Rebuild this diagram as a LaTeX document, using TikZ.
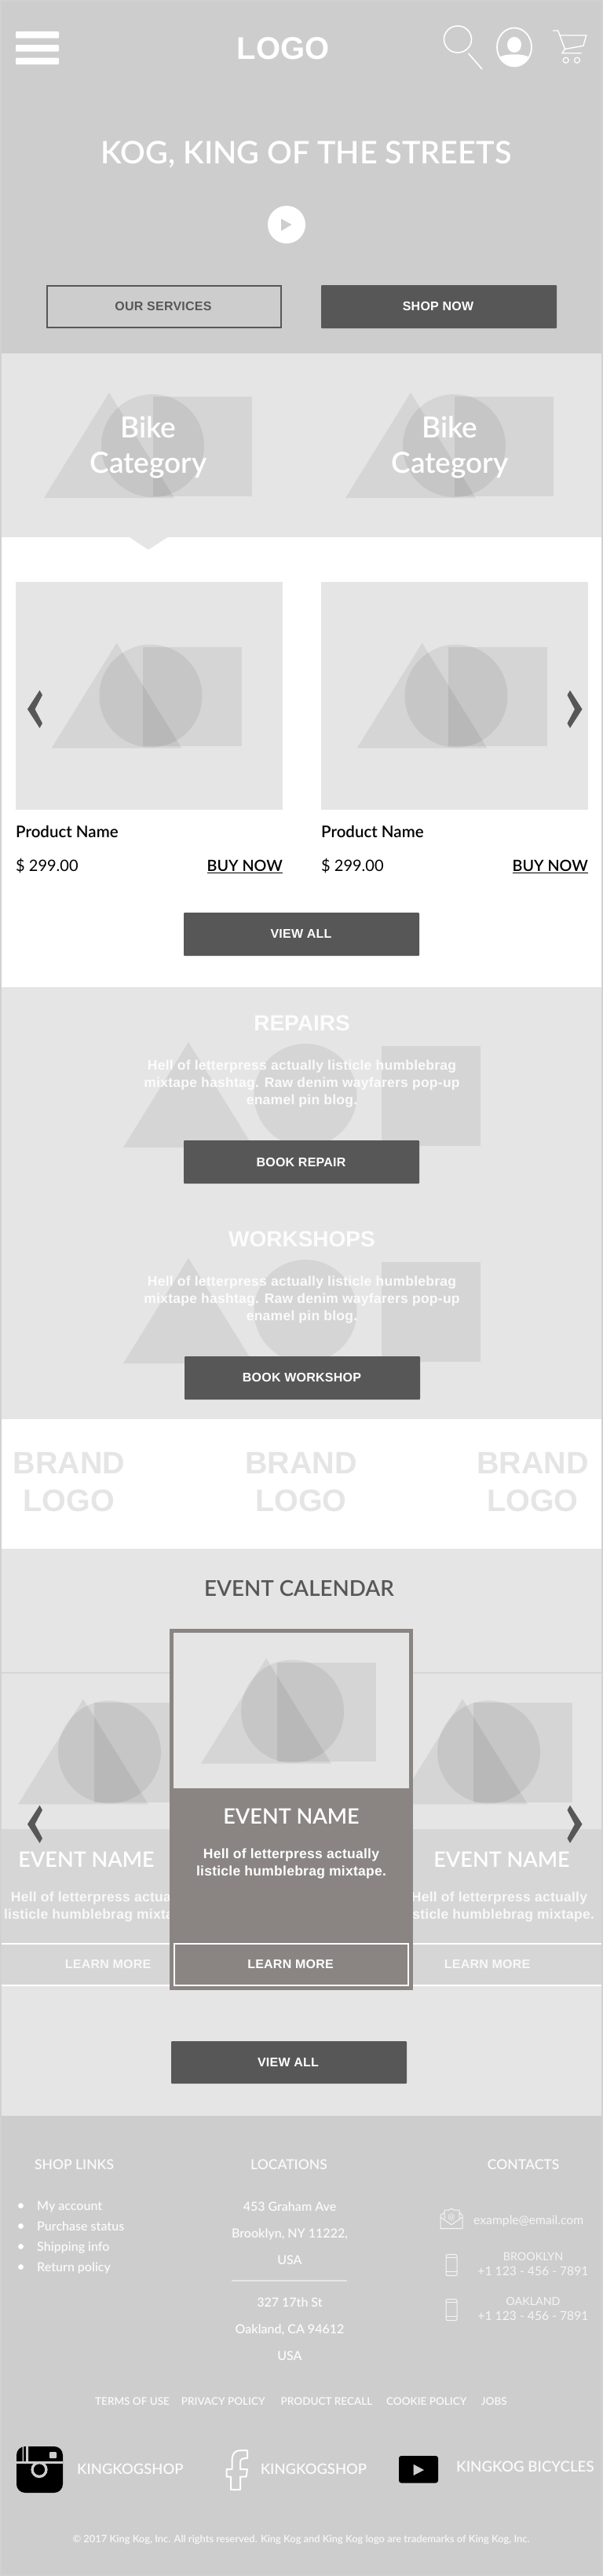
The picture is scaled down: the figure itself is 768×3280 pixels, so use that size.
\documentclass[tikz,border=0pt]{standalone}
\usepackage{fontspec}
\setmainfont{Lato Semibold}
\newfontfamily\helv{Liberation Sans}
\newfontfamily\helvsp{Liberation Sans}[LetterSpace=1.5]
\newfontfamily\latoreg{Lato}
\usetikzlibrary{positioning,calc}
\definecolor{framegrey}{RGB}{208, 210, 210}
\definecolor{herogrey}{RGB}{205, 205, 205}
\definecolor{lightgrey}{RGB}{229, 229, 229}
\definecolor{bandgrey}{RGB}{214, 214, 214}
\definecolor{darkbtn}{RGB}{87, 87, 87}
\definecolor{cardgrey}{RGB}{138, 133, 131}
\newcommand{\sz}[2]{\fontsize{#1}{#2}\selectfont}
% ghost picture: triangle, ellipse and square, #1 #2 #3 = their x, #4 = top
\newcommand{\ghostpic}[4]{
    \fill[black,opacity=0.065] (#1,#4+134) -- (#1+83,#4) -- (#1+166,#4+134) -- cycle;
    \fill[black,opacity=0.065] (#2,#4+67.5) ellipse (65.5 and 65.5);
    \fill[black,opacity=0.065] (#3,#4+5) rectangle ++(126,126.5);
}
% chevrons, #1 = tip x, #2 = middle y, #3 = +1 points left, -1 points right
\newcommand{\chevron}[3]{
    \fill[darkbtn] (#1,#2) -- (#1+#3*15.5,#2-24) -- (#1+#3*19,#2-18) -- (#1+#3*9.5,#2)
        -- (#1+#3*19,#2+18) -- (#1+#3*15.5,#2+24) -- cycle;
}
\tikzset{
    txt/.style={inner sep=0pt,anchor=base},
    whitetxt/.style={txt,text=white},
    btnlabel/.style={txt,text=white,font=\helvsp\bfseries\sz{16}{18}},
    filledbtn/.style={fill=darkbtn,rounded corners=1pt,minimum width=300pt,minimum height=55pt,inner sep=0pt},
    sectionhead/.style={txt,text=white,opacity=0.9,font=\helv\bfseries\sz{28}{32}},
    blurb/.style={inner sep=0pt,text=white,opacity=0.9,align=center,font=\helvsp\bfseries\sz{17.5}{22}},
    brandlogo/.style={inner sep=0pt,text=lightgrey,align=center,font=\helv\bfseries\sz{39.5}{48}},
    eventname/.style={txt,text=white,font=\sz{27}{32}},
    foothead/.style={txt,text=white,opacity=0.9,font=\sz{17.5}{24}},
    footitem/.style={txt,text=white,opacity=0.9,font=\sz{16}{20}},
    footlink/.style={txt,text=white,opacity=0.9,font=\sz{13.5}{18}},
    contact/.style={txt,text=white,opacity=0.8,font=\latoreg\sz{15.7}{20}},
    contacticon/.style={draw=white,opacity=0.8,line width=1pt},
    social/.style={txt,text=white,opacity=0.9,font=\sz{18.4}{26}},
}
\begin{document}
\begin{tikzpicture}[x=1pt,y=-1pt]
    \useasboundingbox (0,0) rectangle (768,3280);
    \fill[framegrey] (0,0) rectangle (768,3280);
    \fill[herogrey] (2,2) rectangle (766,450);
    \fill[lightgrey] (2,450) rectangle (766,684);
    \fill[white] (2,684) rectangle (766,1257);
    \fill[lightgrey] (165,684) -- (213.5,684) -- (189,700) -- cycle;
    \fill[lightgrey] (2,1257) rectangle (766,1807);
    \fill[white] (2,1807) rectangle (766,1972);
    \fill[lightgrey] (2,1972) rectangle (766,2694);
    \fill[herogrey] (2,2694) rectangle (766,3278);

    % header icons
    \foreach \by in {40,57,73.5}
        \fill[white,rounded corners=1pt] (20,\by) rectangle (75,\by+8.5);
    \node[whitetxt,font=\helv\bfseries\sz{40}{44}] (logo) at (360.5,75) {LOGO};
    \draw[white,line width=1.6pt] (583,50) ellipse (17.5 and 17);
    \draw[white,line width=1.6pt] (596.5,68) -- (614,88);
    \draw[white,line width=1.8pt] (655,60) ellipse (22 and 24.5);
    \fill[white] (655,57) ellipse (9 and 10);
    \fill[white] (636,73) .. controls (642,68) and (668,68) .. (674,73)
        .. controls (668,88) and (642,88) .. (636,73) -- cycle;
    \draw[white,line width=1.4pt] (704,39) -- (710.7,39) -- (719.5,62.5) -- (716,67.7) -- (740.7,67.7)
        (712.7,45) -- (746.7,45) -- (743,58.3) -- (719.5,62.5);
    \draw[white,line width=1.2pt] (720.7,76.7) circle (3.5) (735,76.7) circle (3.5);

    % hero
    \node[whitetxt,font=\sz{39.5}{42}] (herotitle) at (390,208) {KOG, KING OF THE STREETS};
    \fill[white] (365,286) ellipse (24 and 24);
    \fill[herogrey] (358,278.5) -- (371.5,286) -- (358,294) -- cycle;
    \node[draw=darkbtn,line width=2pt,minimum width=298pt,minimum height=53pt,inner sep=0pt] (servicesbtn) at (209,390.5) {};
    \node[txt,text=darkbtn,font=\helvsp\bfseries\sz{16}{18}] (serviceslabel) at (208,395.5) {OUR SERVICES};
    \node[filledbtn] (shopbtn) at (559,390.5) {};
    \node[btnlabel] (shoplabel) at (558,395.5) {SHOP NOW};

    % bike categories
    \foreach \dx/\cat in {0/cata,384/catb} {
        \ghostpic{56+\dx}{194.5+\dx}{195+\dx}{500}
        \node[inner sep=0pt,text=white,align=center,font=\sz{37}{45}] (\cat) at (189+\dx,570) {Bike\\Category};
    }

    % products
    \foreach \dx/\prod in {0/proda,389/prodb} {
        \fill[lightgrey] (20+\dx,741) rectangle (360+\dx,1031);
        \ghostpic{65.6+\dx}{192+\dx}{182+\dx}{818.6}
        \node[txt,anchor=base west,font=\sz{20.5}{24}] (\prod name) at (20+\dx,1066) {Product Name};
        \node[txt,anchor=base west,font=\latoreg\sz{20}{24}] (\prod price) at (20+\dx,1109.5) {\$ 299.00};
        \node[txt,anchor=base east,font=\sz{19.7}{24}] (\prod buy) at (360+\dx,1109.5) {\underline{BUY NOW}};
    }
    \chevron{35}{903}{1}
    \chevron{741.5}{903}{-1}
    \node[filledbtn] (viewprod) at (384,1189.5) {};
    \node[btnlabel] (viewprodlabel) at (383.5,1194.5) {VIEW ALL};

    % repairs and workshops
    \ghostpic{157}{389}{486}{1327}
    \node[sectionhead] (repairs) at (384.5,1312) {REPAIRS};
    \node[blurb] (repairsblurb) at (384.5,1380) {Hell of letterpress actually listicle humblebrag\\mixtape hashtag. Raw denim wayfarers pop-up\\enamel pin blog.};
    \node[filledbtn] (repairbtn) at (384,1479.5) {};
    \node[btnlabel] (repairlabel) at (383.5,1485) {BOOK REPAIR};
    \ghostpic{157}{389}{486}{1602}
    \node[sectionhead] (workshops) at (384.5,1587) {WORKSHOPS};
    \node[blurb] (workshopsblurb) at (384.5,1655) {Hell of letterpress actually listicle humblebrag\\mixtape hashtag. Raw denim wayfarers pop-up\\enamel pin blog.};
    \node[filledbtn] (workshopbtn) at (385,1754.5) {};
    \node[btnlabel] (workshoplabel) at (384.5,1759.6) {BOOK WORKSHOP};

    % brands
    \foreach \bx/\brand in {88/branda,383.5/brandb,678.4/brandc}
        \node[brandlogo] (\brand) at (\bx,1887) {BRAND\\LOGO};

    % event calendar
    \node[txt,text=darkbtn,font=\sz{27.7}{32}] (calendar) at (381,2032.5) {EVENT CALENDAR};
    \draw[bandgrey,line width=1.5pt] (2,2130) -- (766,2130);
    \fill[bandgrey] (2,2329) rectangle (766,2528);
    \draw[white,line width=2pt] (2,2475) -- (766,2475) (2,2528) -- (766,2528);
    \foreach \dx/\side/\lx/\bx/\mx in {0/eva/110/126/137.6,483/evb/639/636/620.6} {
        \ghostpic{23+\dx}{139.5+\dx}{120+\dx}{2163.4}
        \node[eventname] (\side name) at (\lx,2377.8) {EVENT NAME};
        \node[blurb,opacity=0.85] (\side blurb) at (\bx,2427.5) {Hell of letterpress actually\\listicle humblebrag mixtape.};
        \node[btnlabel,opacity=0.85] (\side more) at (\mx,2506.4) {LEARN MORE};
    }
    \chevron{35}{2322.7}{1}
    \chevron{741.5}{2322.7}{-1}
    \fill[cardgrey] (216,2074) rectangle (526,2534);
    \fill[lightgrey] (221,2079) rectangle (521,2277);
    \ghostpic{256}{372.6}{353}{2111.5}
    \node[eventname] (cardname) at (371,2322.7) {EVENT NAME};
    \node[blurb,opacity=1] (cardblurb) at (371,2373) {Hell of letterpress actually\\listicle humblebrag mixtape.};
    \node[draw=white,line width=2pt,minimum width=298pt,minimum height=52.5pt,inner sep=0pt] (cardmore) at (371,2501.25) {};
    \node[btnlabel] (cardmorelabel) at (370,2506.4) {LEARN MORE};
    \node[filledbtn,minimum height=54pt] (viewevents) at (368,2626) {};
    \node[btnlabel] (vieweventslabel) at (367,2631) {VIEW ALL};

    % footer columns
    \node[foothead] (shoplinks) at (94.5,2762) {SHOP LINKS};
    \node[foothead] (locations) at (368,2762) {LOCATIONS};
    \node[foothead] (contacts) at (666.6,2762) {CONTACTS};
    \foreach \ly/\itm/\idx in {2814/My account/a,2840/Purchase status/b,2866/Shipping info/c,2892/Return policy/d} {
        \fill[white] (26.5,\ly-5.5) circle (3.4);
        \node[footitem,anchor=base west] (item\idx) at (47,\ly) {\itm};
    }
    \foreach \ly/\itm/\idx in {2815.4/453 Graham Ave/a,2849.4/{Brooklyn, NY 11222,}/b,2883/USA/c,2937/327 17th St/d,2971/{Oakland, CA 94612}/e,3005/USA/f}
        \node[footitem] (addr\idx) at (369,\ly) {\itm};
    \draw[lightgrey,line width=1.5pt] (295,2904) -- (442,2904);

    % contacts
    \draw[contacticon,line join=round] (566,2817.3) -- (561,2820.7) -- (561,2837.7) -- (589,2837.7) -- (589,2820.7) -- (585,2817.3)
        (561,2823) -- (575,2832.7) -- (589,2823)
        (566,2825) -- (566,2814) -- (571.7,2814) -- (575,2812) -- (578.3,2814) -- (585,2814) -- (585,2825);
    \node[contact,font=\latoreg\sz{11}{12}] (emailat) at (575,2826.5) {@};
    \node[contact,anchor=base west] (email) at (603,2832.3) {example@email.com};
    \foreach \py/\city/\phid in {2870.6/BROOKLYN/a,2927.6/OAKLAND/b} {
        \draw[contacticon,rounded corners=2pt] (568,\py) rectangle (582,\py+27);
        \draw[contacticon,line width=.8pt] (568,\py+4) -- (582,\py+4) (568,\py+22) -- (582,\py+22);
        \node[contact,font=\latoreg\sz{14.3}{18}] (city\phid) at (679,\py+8) {\city};
        \node[contact] (phone\phid) at (679,\py+26.8) {+1 123 - 456 - 7891};
    }

    % policy links
    \node[footlink,anchor=base west] (terms) at (121,3062) {TERMS OF USE};
    \node[footlink,anchor=base west] (privacy) at (230.7,3062) {PRIVACY POLICY};
    \node[footlink,anchor=base west] (recall) at (357.5,3062) {PRODUCT RECALL};
    \node[footlink,anchor=base west] (cookie) at (492,3062) {COOKIE POLICY};
    \node[footlink,anchor=base west] (jobs) at (612.7,3062) {JOBS};

    % social row
    \fill[black,rounded corners=11pt] (21,3115) rectangle (80,3174);
    \fill[herogrey] (21,3134) rectangle (80,3137);
    \draw[herogrey,line width=3.6pt] (50,3144.5) circle (8.8);
    \fill[black] (50,3144.5) circle (7);
    \fill[herogrey,rounded corners=1pt] (63,3122) rectangle (72,3130);
    \fill[herogrey] (28.5,3115) rectangle (30,3134) (33,3115) rectangle (36,3134);
    \node[social,anchor=base west] (instagram) at (98,3150.7) {KINGKOGSHOP};
    \draw[white,line width=2pt,line join=round] (315,3120) -- (306,3120) .. controls (299,3120) and (295.5,3125) .. (295.5,3132)
        -- (295.5,3144) -- (288.5,3144) -- (288.5,3153.5) -- (294,3153.5) -- (294,3170) -- (306,3170) -- (306,3153.5)
        -- (313.5,3153.5) -- (315,3144) -- (306,3144) -- (306,3135) .. controls (306,3131) and (309,3130) .. (315,3130) -- cycle;
    \node[social,anchor=base west] (facebook) at (331.6,3150.7) {KINGKOGSHOP};
    \fill[black,rounded corners=3pt] (508,3127) rectangle (558,3161.5);
    \fill[herogrey] (526.5,3137.7) -- (540,3145) -- (526.5,3152) -- cycle;
    \node[social,anchor=base west,font=\sz{18.7}{26}] (youtube) at (581,3147.7) {KINGKOG BICYCLES};

    \node[txt,text=white,opacity=0.85,font=\sz{12.9}{16}] (copyright) at (383.5,3237) {\textcopyright{} 2017 King Kog, Inc. All rights reserved. King Kog and King Kog logo are trademarks of King Kog, Inc.};
\end{tikzpicture}
\end{document}
